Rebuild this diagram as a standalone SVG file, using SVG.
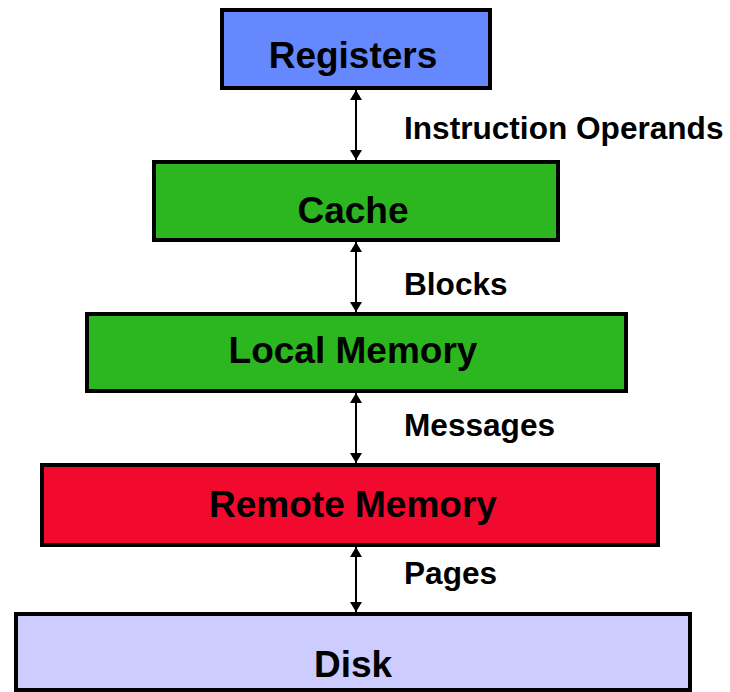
<svg xmlns="http://www.w3.org/2000/svg" width="730" height="692" viewBox="0 0 730 692">
  <defs>
    <marker id="head" viewBox="0 0 10 12" refX="10" refY="6" markerWidth="10" markerHeight="12" markerUnits="userSpaceOnUse" orient="auto-start-reverse">
      <path d="M0,0 L10,6 L0,12 Z" fill="#000"/>
    </marker>
    <style>
      .box { stroke: #000; stroke-width: 4; }
      .name { font-family: "Liberation Sans", Arial, sans-serif; font-weight: bold; font-size: 37px; fill: #000; text-anchor: middle; }
      .lbl { font-family: "Liberation Sans", Arial, sans-serif; font-weight: bold; font-size: 31.6px; fill: #000; }
      .link { stroke: #000; stroke-width: 2; fill: none; marker-start: url(#head); marker-end: url(#head); }
    </style>
  </defs>
  <rect width="730" height="692" fill="#fff"/>

  <g id="connectors">
    <line class="link" x1="356" y1="90" x2="356" y2="160"/>
    <line class="link" x1="356" y1="242" x2="356" y2="312"/>
    <line class="link" x1="356" y1="393" x2="356" y2="463"/>
    <line class="link" x1="356" y1="547" x2="356" y2="612"/>
    <text class="lbl" x="404" y="139">Instruction Operands</text>
    <text class="lbl" x="404" y="295">Blocks</text>
    <text class="lbl" x="404" y="436">Messages</text>
    <text class="lbl" x="404" y="584">Pages</text>
  </g>

  <g id="registers">
    <rect class="box" x="222" y="10" width="268" height="78" fill="#6688ff"/>
    <text class="name" x="353" y="68">Registers</text>
  </g>
  <g id="cache">
    <rect class="box" x="154" y="162" width="404" height="78" fill="#2cb61f"/>
    <text class="name" x="353" y="223">Cache</text>
  </g>
  <g id="local-memory">
    <rect class="box" x="87" y="314" width="539" height="77" fill="#2cb61f"/>
    <text class="name" x="353" y="363">Local Memory</text>
  </g>
  <g id="remote-memory">
    <rect class="box" x="42" y="465" width="616" height="80" fill="#f20a2e"/>
    <text class="name" x="353" y="517">Remote Memory</text>
  </g>
  <g id="disk">
    <rect class="box" x="16" y="614" width="674" height="76" fill="#ccccff"/>
    <text class="name" x="353" y="677">Disk</text>
  </g>
</svg>
